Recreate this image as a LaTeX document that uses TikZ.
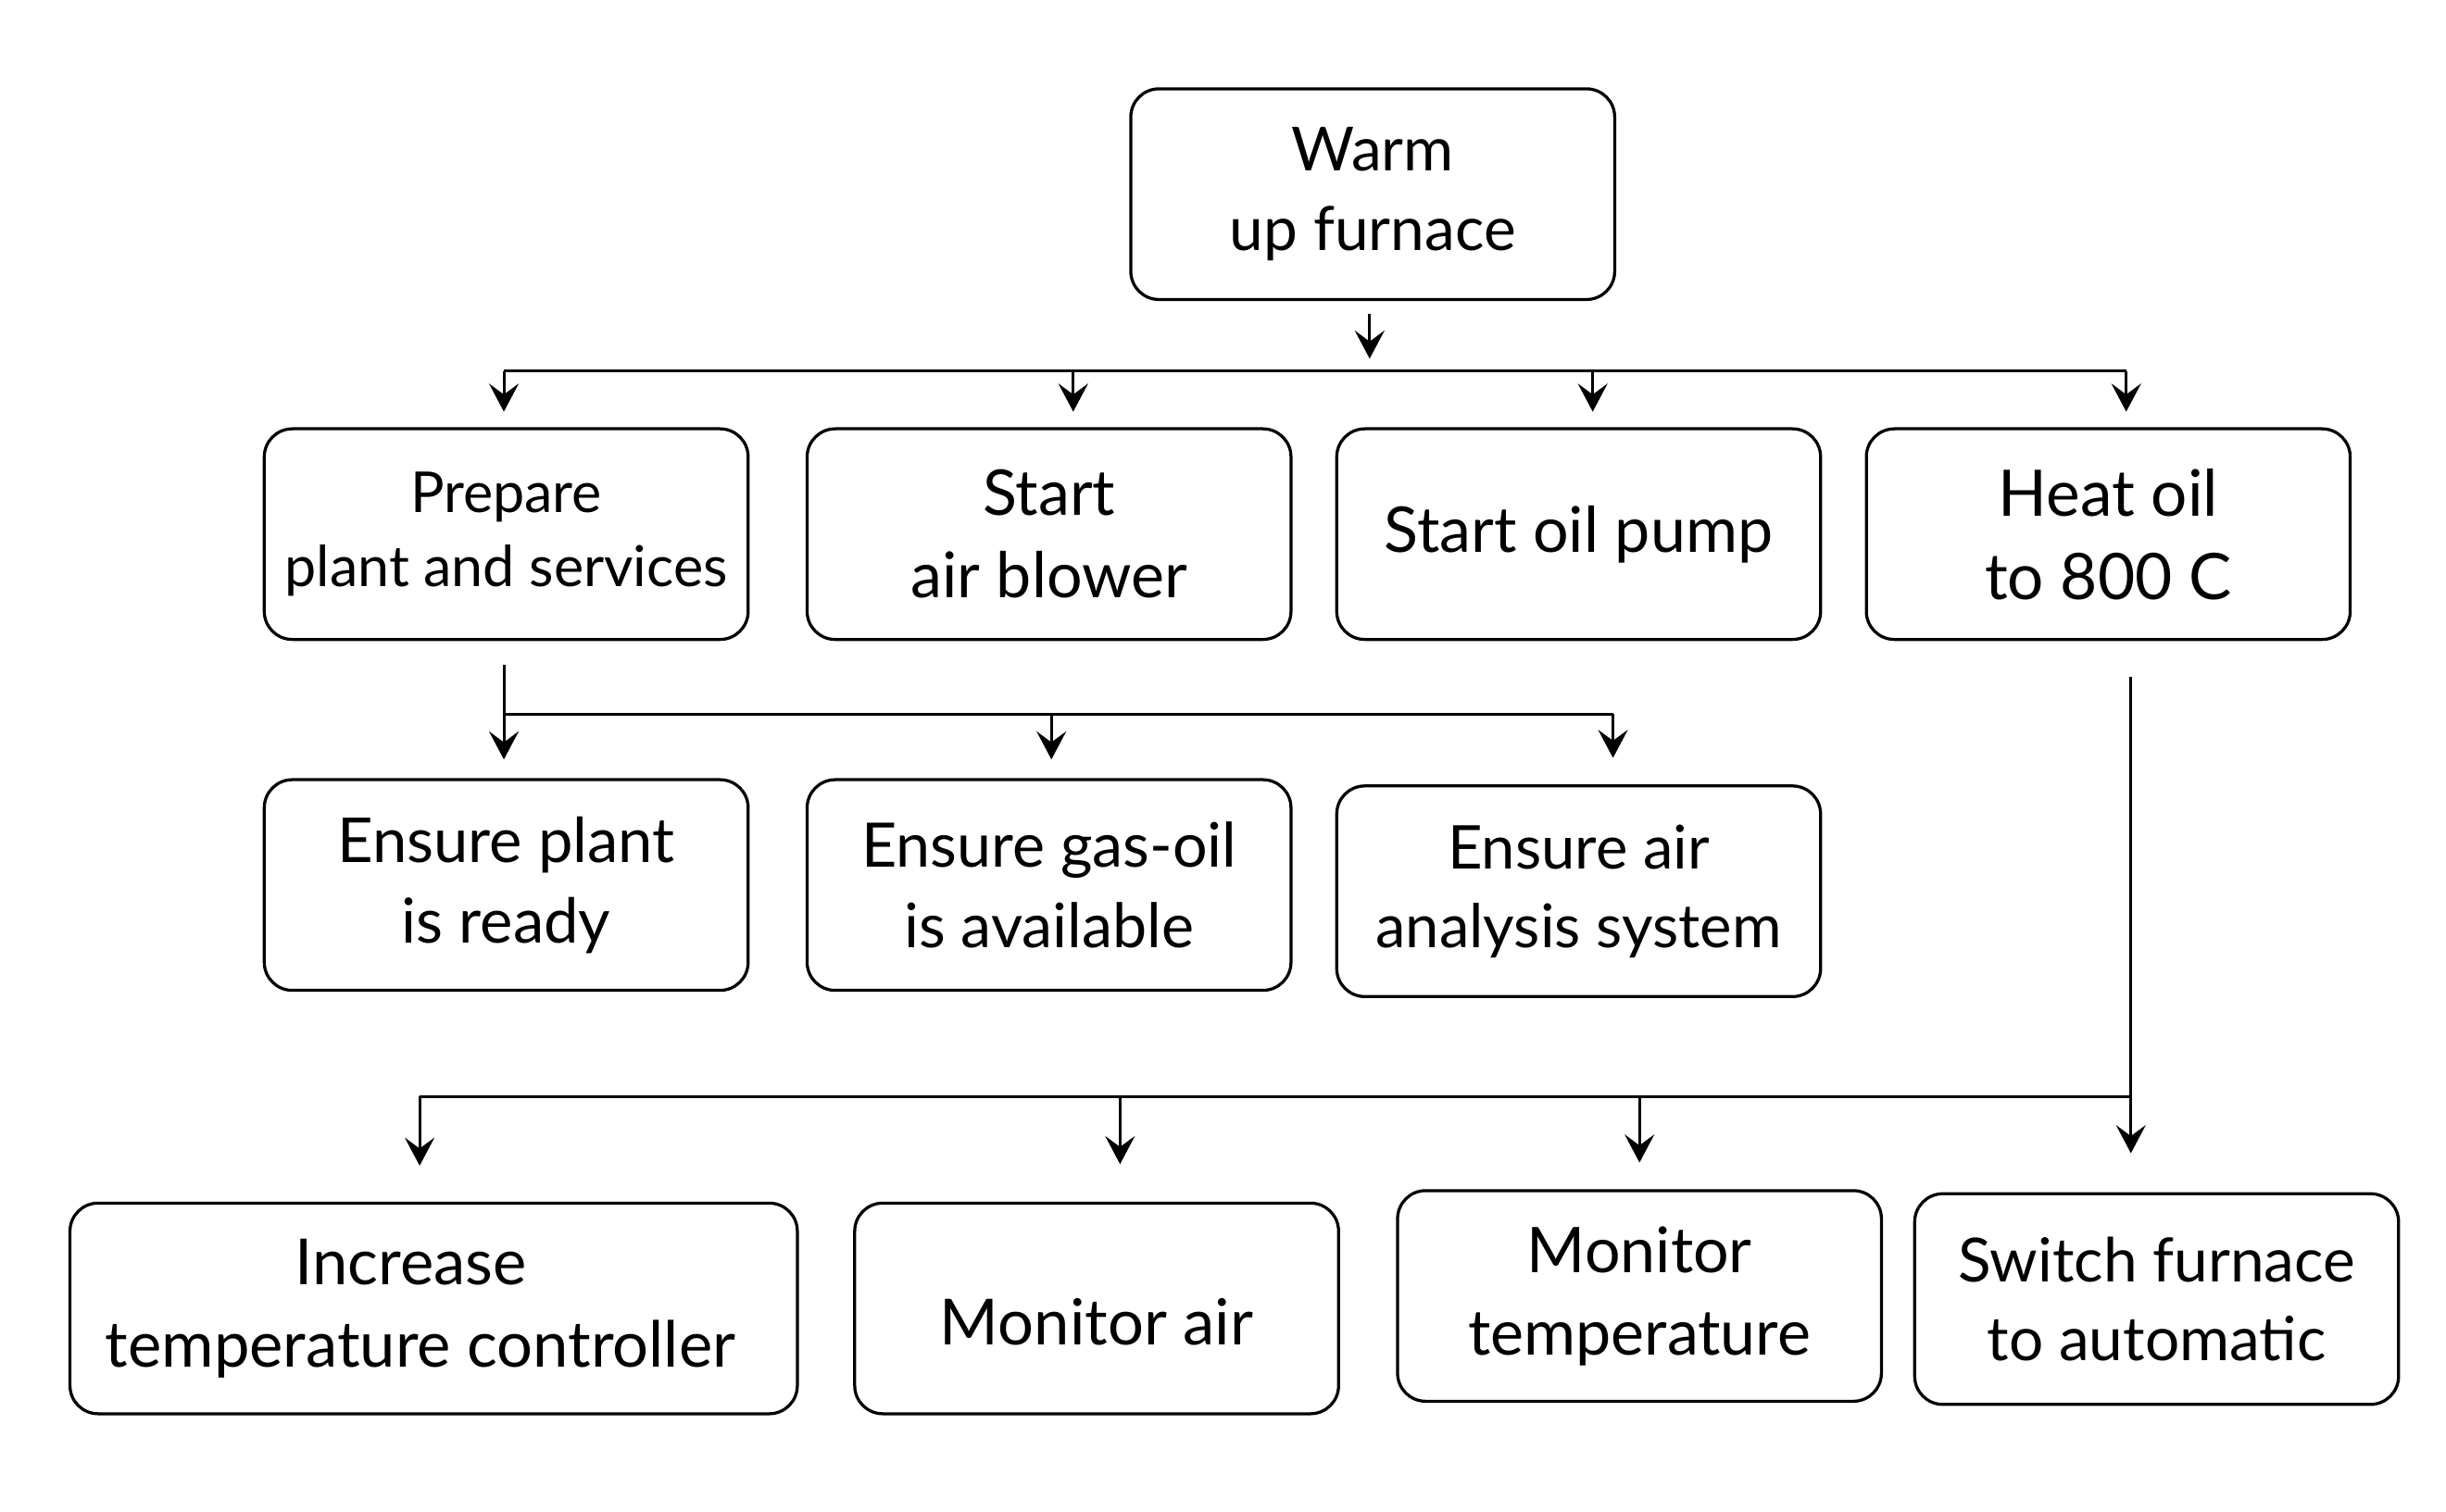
\documentclass[tikz,border=0pt]{standalone}
\usepackage{fontspec}
\setmainfont{Lato}
\usetikzlibrary{arrows.meta}

\begin{document}
\begin{tikzpicture}[x=0.01cm,y=-0.01cm,
    >={Stealth[length=1.8mm,width=1.9mm,inset=0.7mm]},
    box/.style 2 args={draw,line width=0.55pt,rounded corners=1.8mm,align=center,
      minimum width=3.1cm,minimum height=1.35cm,inner sep=0pt,
      font=\fontsize{#1}{#2}\selectfont},
    link/.style={line width=0.5pt}]
    \useasboundingbox (0,0) rectangle (1568,969.5);
    % top task
    \node [box={11.1}{14.4}] (warm) at (880,124.5) {Warm\\up furnace};
    % second level
    \node [box={10.3}{13.4}] (prep) at (324.5,342.5) {Prepare\\plant and services};
    \node [box={11.5}{15}] (blower) at (672.5,342.5) {Start\\air blower};
    \node [box={11.5}{15}] (pump) at (1012,342.5) {Start oil pump};
    \node [box={11.7}{15.2}] (heat) at (1351.5,342.5) {Heat oil\\to 800 C};
    % plan of prepare
    \node [box={11.3}{14.7}] (ready) at (324.5,567.5) {Ensure plant\\is ready};
    \node [box={11.2}{14.6}] (gasoil) at (672.5,567.5) {Ensure gas-oil\\is available};
    \node [box={11}{14.3}] (analysis) at (1012,571.5) {Ensure air\\analysis system};
    % plan of heat oil
    \node [box={11.6}{15.1},minimum width=4.66cm] (incr) at (278,839)
      {Increase\hspace*{0.29cm}\\temperature controller\hspace*{0.17cm}};
    \node [box={11.6}{15.1},text height=13.2pt,text depth=0pt] (monair) at (703,839) {Monitor air};
    \node [box={11.5}{15}] (montemp) at (1051,831) {Monitor\\temperature};
    \node [box={11.1}{14.4}] (switch) at (1382.5,833) {Switch furnace\\to automatic};

    % first bar
    \coordinate (hub1) at (878,238);
    \foreach \x [count=\i] in {323,688,1021,1363}
      \coordinate (top\i) at (\x,238);
    \draw [link,->,shorten <=0.08cm,shorten >=0.08cm] (warm.south -| hub1) -- (hub1);
    \draw [link] (top1) -- (top4);
    \foreach \i in {1,...,4}
      \draw [link,->,shorten >=0.1cm] (top\i) -- (top\i |- prep.north);

    % second bar
    \coordinate (mid1) at (323,458);
    \coordinate (mid2) at (674,458);
    \coordinate (mid3) at (1034,458);
    \draw [link,->,shorten <=0.15cm,shorten >=0.12cm] (mid1 |- prep.south) -- (mid1 |- ready.north);
    \draw [link] (mid1) -- (mid3);
    \draw [link,->,shorten >=0.12cm] (mid2) -- (mid2 |- gasoil.north);
    \draw [link,->,shorten >=0.17cm] (mid3) -- (mid3 |- analysis.north);

    % third bar
    \coordinate (low1) at (269,703);
    \coordinate (low2) at (718,703);
    \coordinate (low3) at (1051,703);
    \coordinate (low4) at (1366,703);
    \draw [link,->,shorten <=0.23cm,shorten >=0.25cm] (low4 |- heat.south) -- (low4 |- switch.north);
    \draw [link] (low1) -- (low4);
    \draw [link,->,shorten >=0.23cm] (low1) -- (low1 |- incr.north);
    \draw [link,->,shorten >=0.24cm] (low2) -- (low2 |- monair.north);
    \draw [link,->,shorten >=0.17cm] (low3) -- (low3 |- montemp.north);
  \end{tikzpicture}
\end{document}
